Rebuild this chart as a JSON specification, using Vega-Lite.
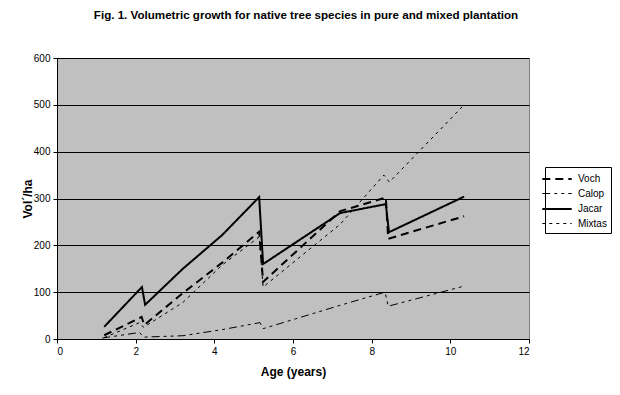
{
  "$schema": "https://vega.github.io/schema/vega-lite/v6.json",
  "width": 472,
  "height": 281,
  "autosize": {"type": "none"},
  "padding": {"left": 57, "top": 58, "right": 91, "bottom": 56},
  "background": "white",
  "config": {
    "font": "Liberation Sans",
    "view": {"fill": "#C0C0C0", "stroke": "#808080", "strokeWidth": 1},
    "axis": {
      "labelFont": "Liberation Sans", "labelFontSize": 10, "labelColor": "black",
      "titleFont": "Liberation Sans", "titleFontSize": 12, "titleFontWeight": "bold", "titleColor": "black",
      "domainColor": "black", "tickColor": "black", "tickSize": 4
    },
    "legend": {
      "orient": "none", "legendX": 488, "legendY": 109,
      "strokeColor": "black", "fillColor": "white", "padding": 4,
      "symbolType": "M-2.1,0H2.1", "symbolSize": 196, "symbolStrokeColor": "black",
      "labelFont": "Liberation Sans", "labelFontSize": 10, "labelColor": "black",
      "labelOffset": 13, "rowPadding": 2
    }
  },
  "title": {
    "text": "Fig. 1. Volumetric growth for native tree species in pure and mixed plantation",
    "font": "Liberation Sans", "fontSize": 11.6, "fontWeight": "bold", "color": "black",
    "anchor": "middle", "frame": "group", "dx": 13, "offset": 31
  },
  "data": {
    "values": [
      {"s": "Voch", "x": 1.2, "y": 8},
      {"s": "Voch", "x": 2.15, "y": 47},
      {"s": "Voch", "x": 2.22, "y": 30},
      {"s": "Voch", "x": 3.2, "y": 98},
      {"s": "Voch", "x": 4.2, "y": 163},
      {"s": "Voch", "x": 5.14, "y": 229},
      {"s": "Voch", "x": 5.24, "y": 122},
      {"s": "Voch", "x": 7.2, "y": 273},
      {"s": "Voch", "x": 8.36, "y": 302},
      {"s": "Voch", "x": 8.42, "y": 214},
      {"s": "Voch", "x": 10.35, "y": 262},
      {"s": "Calop", "x": 1.15, "y": 2},
      {"s": "Calop", "x": 2.1, "y": 14},
      {"s": "Calop", "x": 2.2, "y": 4},
      {"s": "Calop", "x": 3.2, "y": 7},
      {"s": "Calop", "x": 4.2, "y": 20},
      {"s": "Calop", "x": 5.16, "y": 35},
      {"s": "Calop", "x": 5.24, "y": 22},
      {"s": "Calop", "x": 7.2, "y": 72},
      {"s": "Calop", "x": 8.34, "y": 100},
      {"s": "Calop", "x": 8.42, "y": 70},
      {"s": "Calop", "x": 10.35, "y": 113},
      {"s": "Jacar", "x": 1.2, "y": 26},
      {"s": "Jacar", "x": 2.16, "y": 111},
      {"s": "Jacar", "x": 2.24, "y": 73},
      {"s": "Jacar", "x": 3.2, "y": 150},
      {"s": "Jacar", "x": 4.2, "y": 222},
      {"s": "Jacar", "x": 5.14, "y": 303},
      {"s": "Jacar", "x": 5.24, "y": 160},
      {"s": "Jacar", "x": 7.2, "y": 269},
      {"s": "Jacar", "x": 8.36, "y": 288},
      {"s": "Jacar", "x": 8.44, "y": 228},
      {"s": "Jacar", "x": 10.35, "y": 304},
      {"s": "Mixtas", "x": 1.2, "y": 3},
      {"s": "Mixtas", "x": 2.1, "y": 35},
      {"s": "Mixtas", "x": 2.2, "y": 25},
      {"s": "Mixtas", "x": 3.2, "y": 78},
      {"s": "Mixtas", "x": 4.2, "y": 158},
      {"s": "Mixtas", "x": 5.14, "y": 218},
      {"s": "Mixtas", "x": 5.24, "y": 111},
      {"s": "Mixtas", "x": 7.2, "y": 245},
      {"s": "Mixtas", "x": 8.31, "y": 350},
      {"s": "Mixtas", "x": 8.45, "y": 335},
      {"s": "Mixtas", "x": 10.35, "y": 500}
    ]
  },
  "mark": {"type": "line", "color": "black", "strokeCap": "butt"},
  "encoding": {
    "x": {
      "field": "x", "type": "quantitative", "title": "Age (years)",
      "scale": {"domain": [0, 12], "nice": false, "zero": true},
      "axis": {"values": [0, 2, 4, 6, 8, 10, 12], "grid": false, "titlePadding": 10, "labelPadding": 3}
    },
    "y": {
      "field": "y", "type": "quantitative", "title": "Vol´/ha",
      "scale": {"domain": [0, 600], "nice": false},
      "axis": {"values": [0, 100, 200, 300, 400, 500, 600], "grid": true, "gridColor": "black", "gridOpacity": 1, "gridWidth": 1, "titlePadding": -1, "labelPadding": 3}
    },
    "strokeDash": {
      "field": "s", "type": "nominal", "title": null,
      "scale": {"type": "ordinal", "domain": ["Voch", "Calop", "Jacar", "Mixtas"], "range": [[8, 5], [8, 4, 3, 4, 3, 4], [1, 0], [3, 4]]}
    },
    "strokeWidth": {
      "field": "s", "type": "nominal", "title": null,
      "scale": {"type": "ordinal", "domain": ["Voch", "Calop", "Jacar", "Mixtas"], "range": [2, 1, 2, 1]}
    }
  }
}
